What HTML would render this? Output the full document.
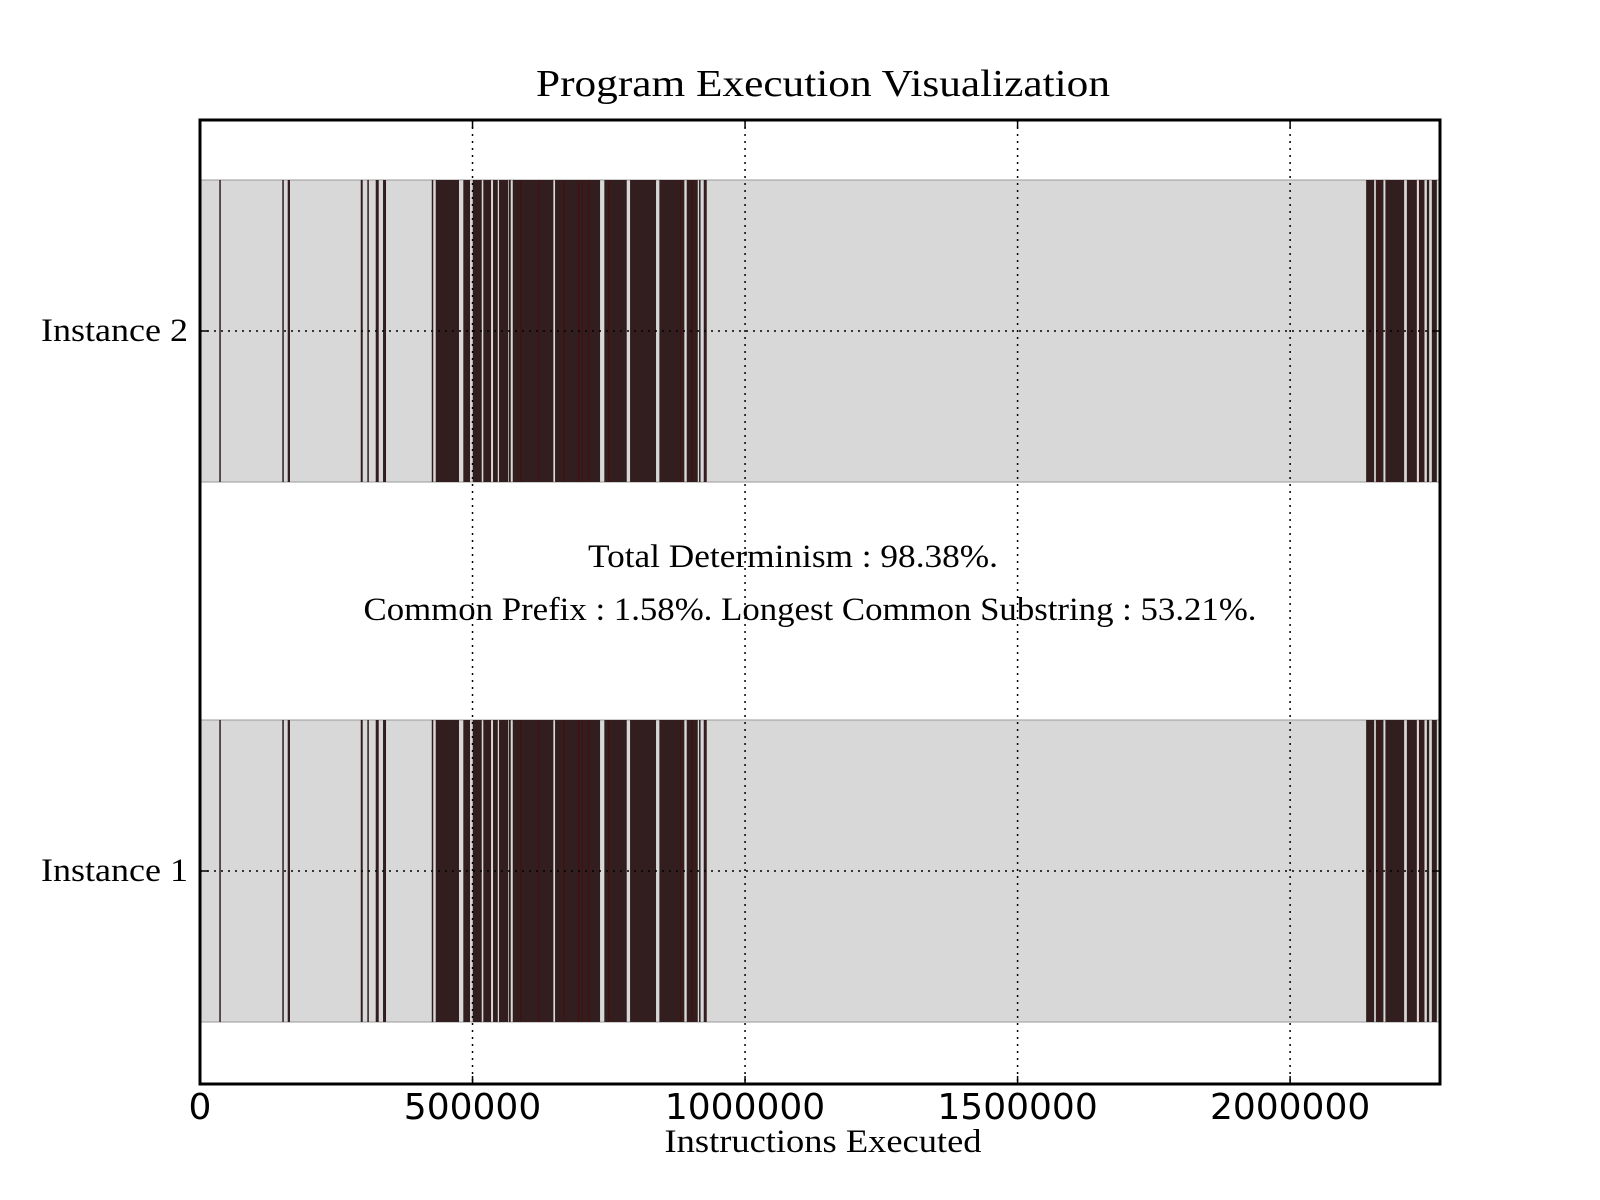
<!DOCTYPE html>
<html><head><meta charset="utf-8"><style>
html,body{margin:0;padding:0;background:#fff;width:1600px;height:1200px;overflow:hidden}
svg text{font-family:"Liberation Serif",serif}
svg text.tick{font-family:"DejaVu Sans",sans-serif}
</style></head><body>
<svg id="chart" width="1600" height="1200" viewBox="0 0 1600 1200" xmlns="http://www.w3.org/2000/svg">
<text x="823" y="96" font-size="38" text-anchor="middle" textLength="574" lengthAdjust="spacingAndGlyphs">Program Execution Visualization</text>
<g id="plot"></g>
<text x="793" y="567" font-size="33" text-anchor="middle" textLength="410" lengthAdjust="spacingAndGlyphs">Total Determinism : 98.38%.</text>
<text x="810" y="620" font-size="33" text-anchor="middle" textLength="893" lengthAdjust="spacingAndGlyphs">Common Prefix : 1.58%. Longest Common Substring : 53.21%.</text>
<text x="823" y="1152" font-size="33" text-anchor="middle" textLength="317" lengthAdjust="spacingAndGlyphs">Instructions Executed</text>
</svg>
<script>
const instances = ["Instance 1", "Instance 2"];
const xTicks = [0, 500000, 1000000, 1500000, 2000000];
const xMax = 2275000;
// dark (executed/divergent) segments in instructions [start, end]
const segStarts = [35400,151000,160900,294900,307000,322400,335800,425200,432500,483100,500400,519800,537600,548600,566400,573800,651400,741800,789000,842800,893000,915600,924200,2139500,2157300,2174900,2214200,2237300,2250900,2260000];
const segEnds   = [36800,152400,165100,298500,308400,327900,341300,426600,475200,495400,516900,534000,546300,565100,570100,648300,734000,782900,836700,888600,913200,917400,929700,2154200,2171200,2209200,2232500,2246500,2255100,2269200];
const redLines = [587200,620700,666600,694100,700400,712500,749200,880800,902200,2162100,2236400];

const L=200,R=1440,T=120,B=1084;
const xs=v=>L+(v/xMax)*(R-L);
const barCenters=[871,331], barH=302;
const ys=i=>barCenters[i];
const NS="http://www.w3.org/2000/svg";
const g=document.getElementById('plot');
function mk(tag,attrs){const e=document.createElementNS(NS,tag);for(const k in attrs)e.setAttribute(k,attrs[k]);g.appendChild(e);return e;}

instances.forEach((name,i)=>{
  const cy=ys(i), top=cy-barH/2;
  const bg=mk('rect',{x:L,y:top,width:R-L,height:barH,fill:'#d8d8d8',stroke:'#9a9a9a','stroke-width':1});
  
  
  segStarts.forEach((s,j)=>{
    const x0=xs(s), w=Math.max(1.5,xs(segEnds[j])-x0);
    const r=mk('rect',{x:x0,y:top,width:w,height:barH,fill:'#321e1e'});
    
    
  });
  redLines.forEach(v=>{
    const r=mk('rect',{x:xs(v),y:top,width:1,height:barH,fill:'#4a0d0d'});
    
    
  });
  const hl=mk('line',{x1:L,x2:R,y1:cy,y2:cy,stroke:'#000','stroke-width':1.5,'stroke-dasharray':'2,5'});
  
  
  const t=mk('text',{x:188,y:cy+10,'font-size':33,'text-anchor':'end',textLength:147,lengthAdjust:'spacingAndGlyphs'});
  t.textContent=name;
  
  
  mk('line',{x1:L,x2:L+8,y1:cy,y2:cy,stroke:'#000','stroke-width':1.5});
  mk('line',{x1:R-8,x2:R,y1:cy,y2:cy,stroke:'#000','stroke-width':1.5});
});
xTicks.forEach(v=>{
  const x=xs(v);
  if(v>0){
    const gl=mk('line',{x1:x,x2:x,y1:T,y2:B,stroke:'#000','stroke-width':1.5,'stroke-dasharray':'2,5'});
    
    
  }
  mk('line',{x1:x,x2:x,y1:B-8,y2:B,stroke:'#000','stroke-width':1.5});
  mk('line',{x1:x,x2:x,y1:T,y2:T+8,stroke:'#000','stroke-width':1.5});
  const s=String(v);
  const t=mk('text',{x:x,y:1119,'font-size':36,'text-anchor':'middle','class':'tick'});
  t.textContent=s;
  
  
});
const frame=mk('rect',{x:L,y:T,width:R-L,height:B-T,fill:'none',stroke:'#000','stroke-width':3});


</script>
</body></html>
